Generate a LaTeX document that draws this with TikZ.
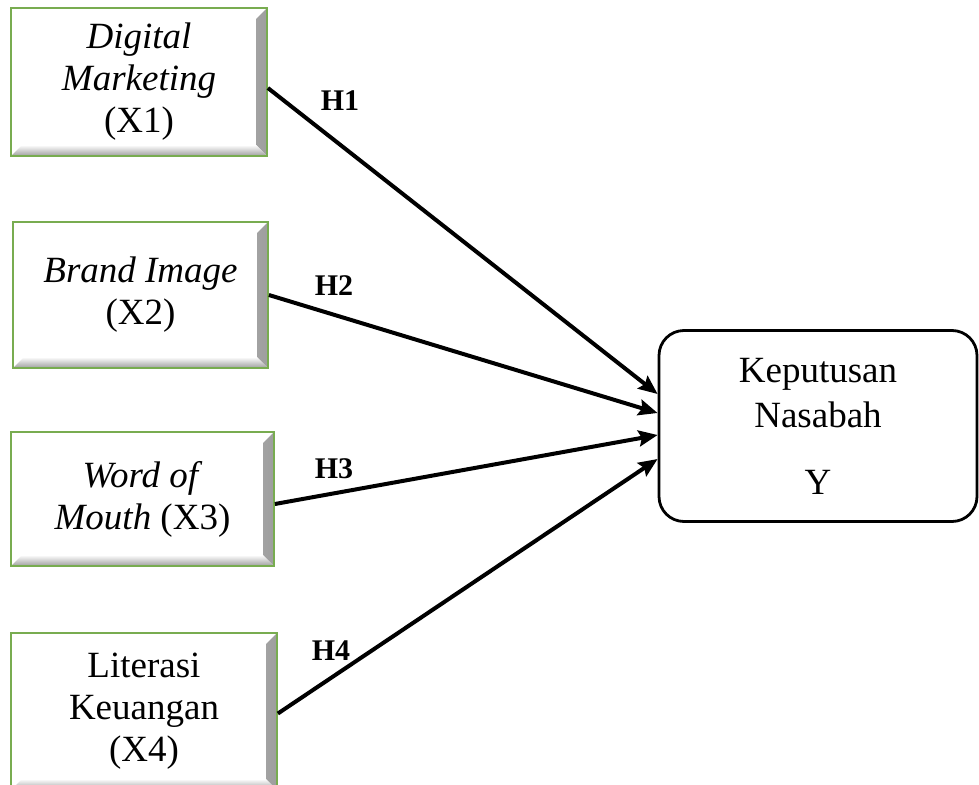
\documentclass[tikz,border=0pt]{standalone}
\usepackage{fontspec}
\setmainfont{Liberation Serif}
\usetikzlibrary{arrows.meta}
\definecolor{boxgreen}{RGB}{120,172,80}
\definecolor{darkgreen}{RGB}{55,75,35}
\tikzset{
  varbox/.style={draw=boxgreen, line width=1.8pt, fill=white, align=center,
    inner sep=0pt, font=\fontsize{37}{42}\selectfont,
    path picture={
      \shade[left color=white,right color=black!38]
        (path picture bounding box.north east) -- (path picture bounding box.south east)
        -- ([xshift=-11pt,yshift=11pt]path picture bounding box.south east)
        -- ([xshift=-11pt,yshift=-11pt]path picture bounding box.north east) -- cycle;
      \shade[top color=white,bottom color=black!38]
        (path picture bounding box.south west) -- (path picture bounding box.south east)
        -- ([xshift=-11pt,yshift=11pt]path picture bounding box.south east)
        -- ([xshift=11pt,yshift=11pt]path picture bounding box.south west) -- cycle;
      \draw[darkgreen,line width=2.4pt] (path picture bounding box.north east) -- (path picture bounding box.south east);
    }},
  ybox/.style={draw=black, line width=2.8pt, rounded corners=25pt, fill=white,
    align=center, inner sep=0pt, font=\fontsize{37}{45}\selectfont},
  hyp/.style={font=\bfseries\fontsize{30}{36}\selectfont, inner sep=0pt},
  arr/.style={line width=4pt, -{Stealth[length=19pt,width=16pt,inset=3pt]}}
}
\begin{document}
\begin{tikzpicture}[x=1pt,y=-1pt]
\useasboundingbox (0,0) rectangle (979,784);
\clip (0,0) rectangle (979,784);
\node[varbox, minimum width=256pt, minimum height=148pt] (x1) at (139,82) {\textit{Digital}\\\textit{Marketing}\\(X1)};
\node[varbox, minimum width=255pt, minimum height=146pt] (x2) at (140.5,295) {\textit{Brand Image}\\(X2)};
\node[varbox, minimum width=263pt, minimum height=134pt] (x3) at (142.5,499) {\textit{Word of}\\\textit{Mouth} (X3)};
\node[varbox, minimum width=266pt, minimum height=157pt] (x4) at (144,711.5) {Literasi\\Keuangan\\(X4)};
\node[ybox, minimum width=318pt, minimum height=191pt] (y) at (818,426) {Keputusan\\Nasabah\\[22pt]Y};
\draw[arr] ([yshift=-6pt]x1.east) -- ([yshift=32pt]y.west);
\draw[arr] (x2.east) -- ([yshift=13pt]y.west);
\draw[arr] ([yshift=-5pt]x3.east) -- ([yshift=-9pt]y.west);
\draw[arr] ([yshift=-2pt]x4.east) -- ([yshift=-33pt]y.west);
\node[hyp] (h1) at (340,101) {H1};
\node[hyp] (h2) at (334,286) {H2};
\node[hyp] (h3) at (334,469) {H3};
\node[hyp] (h4) at (331,651) {H4};
\end{tikzpicture}
\end{document}
